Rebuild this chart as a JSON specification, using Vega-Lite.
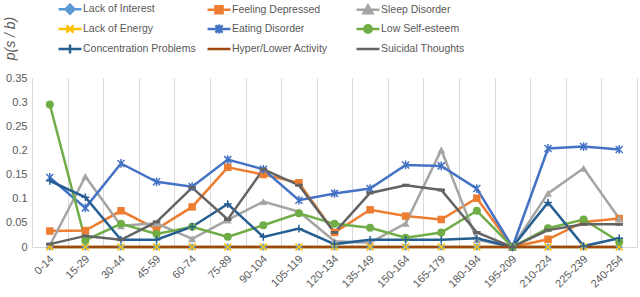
{
  "$schema": "https://vega.github.io/schema/vega-lite/v6.json",
  "width": 605,
  "height": 169,
  "autosize": "none",
  "padding": {"left": 32, "top": 78, "right": 3, "bottom": 50},
  "background": "white",
  "config": {"view": {"stroke": null}, "font": "Liberation Sans"},
  "datasets": {
    "rows": [
      {"age":"0-14","s":"Lack of Interest","p":0},{"age":"15-29","s":"Lack of Interest","p":0},{"age":"30-44","s":"Lack of Interest","p":0},{"age":"45-59","s":"Lack of Interest","p":0},{"age":"60-74","s":"Lack of Interest","p":0},{"age":"75-89","s":"Lack of Interest","p":0},{"age":"90-104","s":"Lack of Interest","p":0},{"age":"105-119","s":"Lack of Interest","p":0},{"age":"120-134","s":"Lack of Interest","p":0},{"age":"135-149","s":"Lack of Interest","p":0},{"age":"150-164","s":"Lack of Interest","p":0},{"age":"165-179","s":"Lack of Interest","p":0},{"age":"180-194","s":"Lack of Interest","p":0},{"age":"195-209","s":"Lack of Interest","p":0},{"age":"210-224","s":"Lack of Interest","p":0},{"age":"225-239","s":"Lack of Interest","p":0},{"age":"240-254","s":"Lack of Interest","p":0},

      {"age":"0-14","s":"Feeling Depressed","p":0.033},{"age":"15-29","s":"Feeling Depressed","p":0.034},{"age":"30-44","s":"Feeling Depressed","p":0.075},{"age":"45-59","s":"Feeling Depressed","p":0.037},{"age":"60-74","s":"Feeling Depressed","p":0.083},{"age":"75-89","s":"Feeling Depressed","p":0.165},{"age":"90-104","s":"Feeling Depressed","p":0.150},{"age":"105-119","s":"Feeling Depressed","p":0.133},{"age":"120-134","s":"Feeling Depressed","p":0.030},{"age":"135-149","s":"Feeling Depressed","p":0.077},{"age":"150-164","s":"Feeling Depressed","p":0.064},{"age":"165-179","s":"Feeling Depressed","p":0.057},{"age":"180-194","s":"Feeling Depressed","p":0.101},{"age":"195-209","s":"Feeling Depressed","p":0},{"age":"210-224","s":"Feeling Depressed","p":0.016},{"age":"225-239","s":"Feeling Depressed","p":0.052},{"age":"240-254","s":"Feeling Depressed","p":0.059},

      {"age":"0-14","s":"Sleep Disorder","p":0.003},{"age":"15-29","s":"Sleep Disorder","p":0.146},{"age":"30-44","s":"Sleep Disorder","p":0.044},{"age":"45-59","s":"Sleep Disorder","p":0.049},{"age":"60-74","s":"Sleep Disorder","p":0.017},{"age":"75-89","s":"Sleep Disorder","p":0.056},{"age":"90-104","s":"Sleep Disorder","p":0.094},{"age":"105-119","s":"Sleep Disorder","p":0.073},{"age":"120-134","s":"Sleep Disorder","p":0.012},{"age":"135-149","s":"Sleep Disorder","p":0.009},{"age":"150-164","s":"Sleep Disorder","p":0.049},{"age":"165-179","s":"Sleep Disorder","p":0.201},{"age":"180-194","s":"Sleep Disorder","p":0.015},{"age":"195-209","s":"Sleep Disorder","p":0},{"age":"210-224","s":"Sleep Disorder","p":0.111},{"age":"225-239","s":"Sleep Disorder","p":0.163},{"age":"240-254","s":"Sleep Disorder","p":0.059},

      {"age":"0-14","s":"Lack of Energy","p":0},{"age":"15-29","s":"Lack of Energy","p":0},{"age":"30-44","s":"Lack of Energy","p":0},{"age":"45-59","s":"Lack of Energy","p":0},{"age":"60-74","s":"Lack of Energy","p":0},{"age":"75-89","s":"Lack of Energy","p":0},{"age":"90-104","s":"Lack of Energy","p":0},{"age":"105-119","s":"Lack of Energy","p":0},{"age":"120-134","s":"Lack of Energy","p":0},{"age":"135-149","s":"Lack of Energy","p":0},{"age":"150-164","s":"Lack of Energy","p":0},{"age":"165-179","s":"Lack of Energy","p":0},{"age":"180-194","s":"Lack of Energy","p":0},{"age":"195-209","s":"Lack of Energy","p":0},{"age":"210-224","s":"Lack of Energy","p":0},{"age":"225-239","s":"Lack of Energy","p":0},{"age":"240-254","s":"Lack of Energy","p":0},

      {"age":"0-14","s":"Eating Disorder","p":0.144},{"age":"15-29","s":"Eating Disorder","p":0.081},{"age":"30-44","s":"Eating Disorder","p":0.173},{"age":"45-59","s":"Eating Disorder","p":0.135},{"age":"60-74","s":"Eating Disorder","p":0.125},{"age":"75-89","s":"Eating Disorder","p":0.181},{"age":"90-104","s":"Eating Disorder","p":0.161},{"age":"105-119","s":"Eating Disorder","p":0.097},{"age":"120-134","s":"Eating Disorder","p":0.111},{"age":"135-149","s":"Eating Disorder","p":0.121},{"age":"150-164","s":"Eating Disorder","p":0.170},{"age":"165-179","s":"Eating Disorder","p":0.168},{"age":"180-194","s":"Eating Disorder","p":0.121},{"age":"195-209","s":"Eating Disorder","p":0},{"age":"210-224","s":"Eating Disorder","p":0.204},{"age":"225-239","s":"Eating Disorder","p":0.208},{"age":"240-254","s":"Eating Disorder","p":0.202},

      {"age":"0-14","s":"Low Self-esteem","p":0.295},{"age":"15-29","s":"Low Self-esteem","p":0.014},{"age":"30-44","s":"Low Self-esteem","p":0.048},{"age":"45-59","s":"Low Self-esteem","p":0.027},{"age":"60-74","s":"Low Self-esteem","p":0.042},{"age":"75-89","s":"Low Self-esteem","p":0.021},{"age":"90-104","s":"Low Self-esteem","p":0.045},{"age":"105-119","s":"Low Self-esteem","p":0.070},{"age":"120-134","s":"Low Self-esteem","p":0.048},{"age":"135-149","s":"Low Self-esteem","p":0.040},{"age":"150-164","s":"Low Self-esteem","p":0.019},{"age":"165-179","s":"Low Self-esteem","p":0.030},{"age":"180-194","s":"Low Self-esteem","p":0.075},{"age":"195-209","s":"Low Self-esteem","p":0},{"age":"210-224","s":"Low Self-esteem","p":0.039},{"age":"225-239","s":"Low Self-esteem","p":0.057},{"age":"240-254","s":"Low Self-esteem","p":0.011},

      {"age":"0-14","s":"Concentration Problems","p":0.137},{"age":"15-29","s":"Concentration Problems","p":0.103},{"age":"30-44","s":"Concentration Problems","p":0.015},{"age":"45-59","s":"Concentration Problems","p":0.015},{"age":"60-74","s":"Concentration Problems","p":0.042},{"age":"75-89","s":"Concentration Problems","p":0.089},{"age":"90-104","s":"Concentration Problems","p":0.021},{"age":"105-119","s":"Concentration Problems","p":0.038},{"age":"120-134","s":"Concentration Problems","p":0.006},{"age":"135-149","s":"Concentration Problems","p":0.015},{"age":"150-164","s":"Concentration Problems","p":0.015},{"age":"165-179","s":"Concentration Problems","p":0.015},{"age":"180-194","s":"Concentration Problems","p":0.018},{"age":"195-209","s":"Concentration Problems","p":0},{"age":"210-224","s":"Concentration Problems","p":0.092},{"age":"225-239","s":"Concentration Problems","p":0.002},{"age":"240-254","s":"Concentration Problems","p":0.018},

      {"age":"0-14","s":"Hyper/Lower Activity","p":0},{"age":"15-29","s":"Hyper/Lower Activity","p":0},{"age":"30-44","s":"Hyper/Lower Activity","p":0},{"age":"45-59","s":"Hyper/Lower Activity","p":0},{"age":"60-74","s":"Hyper/Lower Activity","p":0},{"age":"75-89","s":"Hyper/Lower Activity","p":0},{"age":"90-104","s":"Hyper/Lower Activity","p":0},{"age":"105-119","s":"Hyper/Lower Activity","p":0},{"age":"120-134","s":"Hyper/Lower Activity","p":0},{"age":"135-149","s":"Hyper/Lower Activity","p":0},{"age":"150-164","s":"Hyper/Lower Activity","p":0},{"age":"165-179","s":"Hyper/Lower Activity","p":0},{"age":"180-194","s":"Hyper/Lower Activity","p":0},{"age":"195-209","s":"Hyper/Lower Activity","p":0},{"age":"210-224","s":"Hyper/Lower Activity","p":0},{"age":"225-239","s":"Hyper/Lower Activity","p":0},{"age":"240-254","s":"Hyper/Lower Activity","p":0},

      {"age":"0-14","s":"Suicidal Thoughts","p":0.006},{"age":"15-29","s":"Suicidal Thoughts","p":0.023},{"age":"30-44","s":"Suicidal Thoughts","p":0.015},{"age":"45-59","s":"Suicidal Thoughts","p":0.052},{"age":"60-74","s":"Suicidal Thoughts","p":0.123},{"age":"75-89","s":"Suicidal Thoughts","p":0.057},{"age":"90-104","s":"Suicidal Thoughts","p":0.161},{"age":"105-119","s":"Suicidal Thoughts","p":0.128},{"age":"120-134","s":"Suicidal Thoughts","p":0.030},{"age":"135-149","s":"Suicidal Thoughts","p":0.112},{"age":"150-164","s":"Suicidal Thoughts","p":0.128},{"age":"165-179","s":"Suicidal Thoughts","p":0.118},{"age":"180-194","s":"Suicidal Thoughts","p":0.030},{"age":"195-209","s":"Suicidal Thoughts","p":0},{"age":"210-224","s":"Suicidal Thoughts","p":0.035},{"age":"225-239","s":"Suicidal Thoughts","p":0.047},{"age":"240-254","s":"Suicidal Thoughts","p":0.047}
    ]
  },
  "data": {"name": "rows"},
  "encoding": {
    "x": {
      "field": "age", "type": "ordinal", "sort": null,
      "scale": {"type": "band", "paddingInner": 0, "paddingOuter": 0},
      "axis": {
        "title": null, "grid": true, "gridColor": "#D9D9D9", "tickBand": "extent",
        "ticks": false, "domain": true, "domainColor": "#D9D9D9",
        "labelAngle": -45, "labelAlign": "right", "labelBaseline": "middle",
        "labelPadding": 10, "labelOffset": 2, "labelFontSize": 11, "labelColor": "#595959"
      }
    },
    "y": {
      "field": "p", "type": "quantitative",
      "scale": {"domain": [0, 0.35], "nice": false, "zero": true},
      "axis": {
        "values": [0, 0.05, 0.1, 0.15, 0.2, 0.25, 0.3, 0.35],
        "format": ".2~f", "grid": false, "domain": false, "ticks": false,
        "labelColor": "#595959", "labelFontSize": 11, "labelPadding": 5,
        "title": "p(s / b)", "titleFontStyle": "italic", "titleFontWeight": "normal",
        "titleFontSize": 14, "titleColor": "#595959", "titleAngle": 270,
        "titleX": -22, "titleY": -40, "titleAlign": "center", "titleBaseline": "middle"
      }
    }
  },
  "layer": [
    {
      "mark": {"type": "line", "strokeWidth": 2.5},
      "encoding": {
        "color": {
          "field": "s", "type": "nominal",
          "scale": {
            "domain": ["Lack of Interest","Lack of Energy","Concentration Problems","Feeling Depressed","Eating Disorder","Hyper/Lower Activity","Sleep Disorder","Low Self-esteem","Suicidal Thoughts"],
            "range": ["#5B9BD5","#FFC000","#255E91","#ED7D31","#4472C4","#9E480E","#A5A5A5","#70AD47","#636363"]
          },
          "legend": {
            "title": null, "orient": "none", "legendX": 29, "legendY": -78,
            "columns": 3, "gridAlign": "all", "columnPadding": 6, "rowPadding": 0,
            "symbolSize": 225, "symbolStrokeWidth": 2.5,
            "labelFontSize": 10.5, "labelColor": "#595959", "labelOffset": 4,
            "encode": {
              "symbols": {
                "update": {
                  "shape": {"signal": "{'Lack of Interest':'M-1.53,0L1.53,0M0,-0.6L0.6,0L0,0.6L-0.6,0Z','Feeling Depressed':'M-1.53,0L1.53,0M-0.47,-0.47L0.47,-0.47L0.47,0.47L-0.47,0.47Z','Sleep Disorder':'M-1.53,0L1.53,0M0,-0.6L0.6,0.47L-0.6,0.47Z','Lack of Energy':'M-1.53,0L1.53,0M-0.47,-0.47L0.47,0.47M-0.47,0.47L0.47,-0.47','Eating Disorder':'M-1.53,0L1.53,0M-0.47,-0.47L0.47,0.47M-0.47,0.47L0.47,-0.47M0,-0.6L0,0.6','Low Self-esteem':'M-1.53,0L1.53,0M-0.5,0A0.5,0.5,0,1,0,0.5,0A0.5,0.5,0,1,0,-0.5,0Z','Concentration Problems':'M-1.53,0L1.53,0M0,-0.6L0,0.6','Hyper/Lower Activity':'M-1.53,0L1.53,0','Suicidal Thoughts':'M-1.53,0L1.53,0'}[datum.value]"},
                  "fill": {"signal": "indexof(['Lack of Energy','Eating Disorder','Concentration Problems','Hyper/Lower Activity','Suicidal Thoughts'], datum.value) >= 0 ? 'transparent' : scale('color', datum.value)"},
                  "stroke": {"signal": "scale('color', datum.value)"},
                  "strokeWidth": {"value": 2.5},
                  "opacity": {"value": 1}
                }
              }
            }
          }
        }
      }
    },
    {
      "transform": [{"filter": "datum.s === 'Lack of Interest'"}],
      "mark": {"type": "point", "shape": "diamond", "filled": true, "opacity": 1, "size": 56, "color": "#5B9BD5"}
    },
    {
      "transform": [{"filter": "datum.s === 'Feeling Depressed'"}],
      "mark": {"type": "point", "shape": "square", "filled": true, "opacity": 1, "size": 56, "color": "#ED7D31"}
    },
    {
      "transform": [{"filter": "datum.s === 'Sleep Disorder'"}],
      "mark": {"type": "point", "shape": "triangle-up", "filled": true, "opacity": 1, "size": 64, "color": "#A5A5A5"}
    },
    {
      "transform": [{"filter": "datum.s === 'Lack of Energy'"}],
      "mark": {"type": "point", "shape": "M-1,-1L1,1M-1,1L1,-1", "filled": false, "opacity": 1, "size": 49, "strokeWidth": 1.5, "color": "#FFC000"}
    },
    {
      "transform": [{"filter": "datum.s === 'Eating Disorder'"}],
      "mark": {"type": "point", "shape": "M-1,-1L1,1M-1,1L1,-1M0,-1.25L0,1.25", "filled": false, "opacity": 1, "size": 49, "strokeWidth": 1.5, "color": "#4472C4"}
    },
    {
      "transform": [{"filter": "datum.s === 'Low Self-esteem'"}],
      "mark": {"type": "point", "shape": "circle", "filled": true, "opacity": 1, "size": 64, "color": "#70AD47"}
    },
    {
      "transform": [{"filter": "datum.s === 'Concentration Problems'"}],
      "mark": {"type": "point", "shape": "M-1.1,0L1.1,0M0,-1.1L0,1.1", "filled": false, "opacity": 1, "size": 49, "strokeWidth": 1.5, "color": "#255E91"}
    },
    {
      "transform": [{"filter": "datum.s === 'Suicidal Thoughts'"}],
      "mark": {"type": "point", "shape": "M-1,-0.4L1,-0.4L1,0.4L-1,0.4Z", "filled": true, "opacity": 1, "size": 56, "color": "#636363"}
    }
  ]
}
